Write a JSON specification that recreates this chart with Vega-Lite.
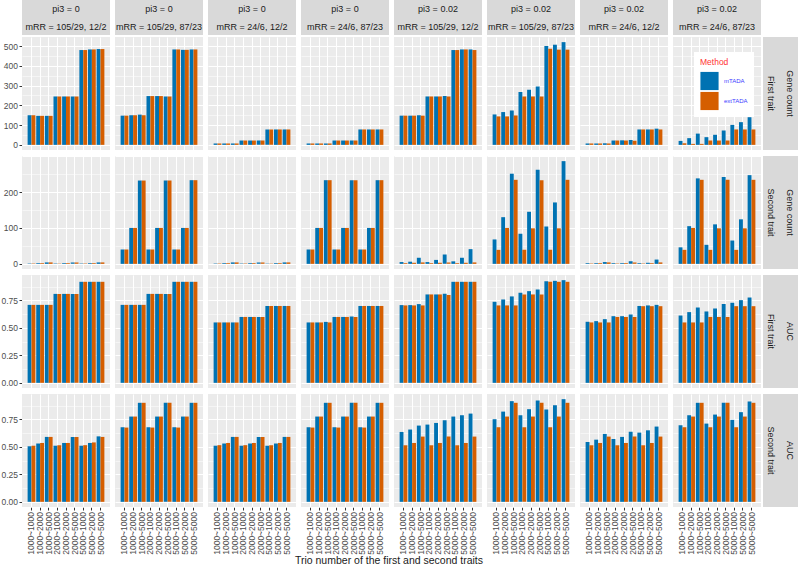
{
"$schema": "https://vega.github.io/schema/vega-lite/v6.json",
"padding": {"left": 0, "top": 0, "right": 0, "bottom": 0},
"background": "white",
"datasets": {
"d": [
{"c":1,"x":"1000~1000","m":"mTADA","g1":150,"g2":1,"a1":0.71,"a2":0.505},
{"c":1,"x":"1000~2000","m":"mTADA","g1":147,"g2":2,"a1":0.71,"a2":0.53},
{"c":1,"x":"1000~5000","m":"mTADA","g1":147,"g2":4,"a1":0.71,"a2":0.59},
{"c":1,"x":"2000~1000","m":"mTADA","g1":245,"g2":1,"a1":0.81,"a2":0.51},
{"c":1,"x":"2000~2000","m":"mTADA","g1":245,"g2":2,"a1":0.81,"a2":0.535},
{"c":1,"x":"2000~5000","m":"mTADA","g1":245,"g2":4,"a1":0.81,"a2":0.59},
{"c":1,"x":"5000~1000","m":"mTADA","g1":480,"g2":1,"a1":0.92,"a2":0.51},
{"c":1,"x":"5000~2000","m":"mTADA","g1":483,"g2":2,"a1":0.92,"a2":0.535},
{"c":1,"x":"5000~5000","m":"mTADA","g1":485,"g2":4,"a1":0.92,"a2":0.595},
{"c":1,"x":"1000~1000","m":"extTADA","g1":150,"g2":1,"a1":0.71,"a2":0.51},
{"c":1,"x":"1000~2000","m":"extTADA","g1":147,"g2":2,"a1":0.71,"a2":0.535},
{"c":1,"x":"1000~5000","m":"extTADA","g1":147,"g2":4,"a1":0.71,"a2":0.59},
{"c":1,"x":"2000~1000","m":"extTADA","g1":245,"g2":1,"a1":0.81,"a2":0.515},
{"c":1,"x":"2000~2000","m":"extTADA","g1":245,"g2":2,"a1":0.81,"a2":0.535},
{"c":1,"x":"2000~5000","m":"extTADA","g1":245,"g2":4,"a1":0.81,"a2":0.59},
{"c":1,"x":"5000~1000","m":"extTADA","g1":480,"g2":1,"a1":0.92,"a2":0.515},
{"c":1,"x":"5000~2000","m":"extTADA","g1":483,"g2":2,"a1":0.92,"a2":0.54},
{"c":1,"x":"5000~5000","m":"extTADA","g1":485,"g2":4,"a1":0.92,"a2":0.59},
{"c":2,"x":"1000~1000","m":"mTADA","g1":148,"g2":40,"a1":0.71,"a2":0.678},
{"c":2,"x":"1000~2000","m":"mTADA","g1":150,"g2":100,"a1":0.71,"a2":0.775},
{"c":2,"x":"1000~5000","m":"mTADA","g1":153,"g2":232,"a1":0.71,"a2":0.9},
{"c":2,"x":"2000~1000","m":"mTADA","g1":247,"g2":40,"a1":0.81,"a2":0.678},
{"c":2,"x":"2000~2000","m":"mTADA","g1":247,"g2":100,"a1":0.81,"a2":0.775},
{"c":2,"x":"2000~5000","m":"mTADA","g1":245,"g2":232,"a1":0.81,"a2":0.9},
{"c":2,"x":"5000~1000","m":"mTADA","g1":483,"g2":40,"a1":0.92,"a2":0.678},
{"c":2,"x":"5000~2000","m":"mTADA","g1":481,"g2":100,"a1":0.92,"a2":0.775},
{"c":2,"x":"5000~5000","m":"mTADA","g1":483,"g2":233,"a1":0.92,"a2":0.9},
{"c":2,"x":"1000~1000","m":"extTADA","g1":148,"g2":40,"a1":0.71,"a2":0.675},
{"c":2,"x":"1000~2000","m":"extTADA","g1":150,"g2":100,"a1":0.71,"a2":0.775},
{"c":2,"x":"1000~5000","m":"extTADA","g1":150,"g2":232,"a1":0.71,"a2":0.9},
{"c":2,"x":"2000~1000","m":"extTADA","g1":247,"g2":40,"a1":0.81,"a2":0.675},
{"c":2,"x":"2000~2000","m":"extTADA","g1":247,"g2":100,"a1":0.81,"a2":0.775},
{"c":2,"x":"2000~5000","m":"extTADA","g1":245,"g2":232,"a1":0.81,"a2":0.9},
{"c":2,"x":"5000~1000","m":"extTADA","g1":483,"g2":40,"a1":0.92,"a2":0.675},
{"c":2,"x":"5000~2000","m":"extTADA","g1":481,"g2":100,"a1":0.92,"a2":0.775},
{"c":2,"x":"5000~5000","m":"extTADA","g1":483,"g2":233,"a1":0.92,"a2":0.9},
{"c":3,"x":"1000~1000","m":"mTADA","g1":7,"g2":1,"a1":0.55,"a2":0.51},
{"c":3,"x":"1000~2000","m":"mTADA","g1":7,"g2":2,"a1":0.55,"a2":0.53},
{"c":3,"x":"1000~5000","m":"mTADA","g1":7,"g2":4,"a1":0.55,"a2":0.59},
{"c":3,"x":"2000~1000","m":"mTADA","g1":22,"g2":1,"a1":0.6,"a2":0.51},
{"c":3,"x":"2000~2000","m":"mTADA","g1":22,"g2":2,"a1":0.6,"a2":0.53},
{"c":3,"x":"2000~5000","m":"mTADA","g1":22,"g2":4,"a1":0.6,"a2":0.59},
{"c":3,"x":"5000~1000","m":"mTADA","g1":78,"g2":1,"a1":0.7,"a2":0.51},
{"c":3,"x":"5000~2000","m":"mTADA","g1":78,"g2":2,"a1":0.7,"a2":0.53},
{"c":3,"x":"5000~5000","m":"mTADA","g1":78,"g2":4,"a1":0.7,"a2":0.59},
{"c":3,"x":"1000~1000","m":"extTADA","g1":7,"g2":1,"a1":0.55,"a2":0.515},
{"c":3,"x":"1000~2000","m":"extTADA","g1":7,"g2":2,"a1":0.55,"a2":0.535},
{"c":3,"x":"1000~5000","m":"extTADA","g1":7,"g2":4,"a1":0.55,"a2":0.59},
{"c":3,"x":"2000~1000","m":"extTADA","g1":22,"g2":1,"a1":0.6,"a2":0.515},
{"c":3,"x":"2000~2000","m":"extTADA","g1":22,"g2":2,"a1":0.6,"a2":0.535},
{"c":3,"x":"2000~5000","m":"extTADA","g1":22,"g2":4,"a1":0.6,"a2":0.59},
{"c":3,"x":"5000~1000","m":"extTADA","g1":78,"g2":1,"a1":0.7,"a2":0.515},
{"c":3,"x":"5000~2000","m":"extTADA","g1":78,"g2":2,"a1":0.7,"a2":0.535},
{"c":3,"x":"5000~5000","m":"extTADA","g1":78,"g2":4,"a1":0.7,"a2":0.59},
{"c":4,"x":"1000~1000","m":"mTADA","g1":7,"g2":40,"a1":0.55,"a2":0.678},
{"c":4,"x":"1000~2000","m":"mTADA","g1":7,"g2":100,"a1":0.55,"a2":0.775},
{"c":4,"x":"1000~5000","m":"mTADA","g1":7,"g2":233,"a1":0.555,"a2":0.9},
{"c":4,"x":"2000~1000","m":"mTADA","g1":22,"g2":40,"a1":0.6,"a2":0.678},
{"c":4,"x":"2000~2000","m":"mTADA","g1":22,"g2":100,"a1":0.6,"a2":0.775},
{"c":4,"x":"2000~5000","m":"mTADA","g1":22,"g2":233,"a1":0.605,"a2":0.9},
{"c":4,"x":"5000~1000","m":"mTADA","g1":78,"g2":40,"a1":0.7,"a2":0.678},
{"c":4,"x":"5000~2000","m":"mTADA","g1":78,"g2":100,"a1":0.7,"a2":0.775},
{"c":4,"x":"5000~5000","m":"mTADA","g1":78,"g2":233,"a1":0.7,"a2":0.9},
{"c":4,"x":"1000~1000","m":"extTADA","g1":7,"g2":40,"a1":0.55,"a2":0.675},
{"c":4,"x":"1000~2000","m":"extTADA","g1":7,"g2":100,"a1":0.55,"a2":0.775},
{"c":4,"x":"1000~5000","m":"extTADA","g1":7,"g2":233,"a1":0.55,"a2":0.9},
{"c":4,"x":"2000~1000","m":"extTADA","g1":22,"g2":40,"a1":0.6,"a2":0.675},
{"c":4,"x":"2000~2000","m":"extTADA","g1":22,"g2":100,"a1":0.6,"a2":0.775},
{"c":4,"x":"2000~5000","m":"extTADA","g1":22,"g2":233,"a1":0.6,"a2":0.9},
{"c":4,"x":"5000~1000","m":"extTADA","g1":78,"g2":40,"a1":0.7,"a2":0.675},
{"c":4,"x":"5000~2000","m":"extTADA","g1":78,"g2":100,"a1":0.7,"a2":0.775},
{"c":4,"x":"5000~5000","m":"extTADA","g1":78,"g2":233,"a1":0.7,"a2":0.9},
{"c":5,"x":"1000~1000","m":"mTADA","g1":148,"g2":5,"a1":0.708,"a2":0.635},
{"c":5,"x":"1000~2000","m":"mTADA","g1":148,"g2":6,"a1":0.708,"a2":0.657},
{"c":5,"x":"1000~5000","m":"mTADA","g1":150,"g2":17,"a1":0.717,"a2":0.693},
{"c":5,"x":"2000~1000","m":"mTADA","g1":245,"g2":5,"a1":0.805,"a2":0.702},
{"c":5,"x":"2000~2000","m":"mTADA","g1":245,"g2":11,"a1":0.805,"a2":0.717},
{"c":5,"x":"2000~5000","m":"mTADA","g1":247,"g2":26,"a1":0.811,"a2":0.742},
{"c":5,"x":"5000~1000","m":"mTADA","g1":480,"g2":7,"a1":0.92,"a2":0.775},
{"c":5,"x":"5000~2000","m":"mTADA","g1":483,"g2":17,"a1":0.92,"a2":0.787},
{"c":5,"x":"5000~5000","m":"mTADA","g1":483,"g2":41,"a1":0.92,"a2":0.802},
{"c":5,"x":"1000~1000","m":"extTADA","g1":148,"g2":2,"a1":0.705,"a2":0.514},
{"c":5,"x":"1000~2000","m":"extTADA","g1":148,"g2":3,"a1":0.705,"a2":0.535},
{"c":5,"x":"1000~5000","m":"extTADA","g1":148,"g2":4,"a1":0.705,"a2":0.593},
{"c":5,"x":"2000~1000","m":"extTADA","g1":245,"g2":2,"a1":0.805,"a2":0.514},
{"c":5,"x":"2000~2000","m":"extTADA","g1":245,"g2":3,"a1":0.805,"a2":0.535},
{"c":5,"x":"2000~5000","m":"extTADA","g1":245,"g2":4,"a1":0.8,"a2":0.593},
{"c":5,"x":"5000~1000","m":"extTADA","g1":480,"g2":2,"a1":0.92,"a2":0.514},
{"c":5,"x":"5000~2000","m":"extTADA","g1":483,"g2":3,"a1":0.92,"a2":0.535},
{"c":5,"x":"5000~5000","m":"extTADA","g1":480,"g2":4,"a1":0.92,"a2":0.593},
{"c":6,"x":"1000~1000","m":"mTADA","g1":154,"g2":68,"a1":0.738,"a2":0.751},
{"c":6,"x":"1000~2000","m":"mTADA","g1":166,"g2":130,"a1":0.759,"a2":0.82},
{"c":6,"x":"1000~5000","m":"mTADA","g1":174,"g2":251,"a1":0.787,"a2":0.915},
{"c":6,"x":"2000~1000","m":"mTADA","g1":267,"g2":84,"a1":0.82,"a2":0.787},
{"c":6,"x":"2000~2000","m":"mTADA","g1":279,"g2":145,"a1":0.835,"a2":0.842},
{"c":6,"x":"2000~5000","m":"mTADA","g1":296,"g2":262,"a1":0.85,"a2":0.921},
{"c":6,"x":"5000~1000","m":"mTADA","g1":500,"g2":104,"a1":0.926,"a2":0.839},
{"c":6,"x":"5000~2000","m":"mTADA","g1":507,"g2":171,"a1":0.929,"a2":0.878},
{"c":6,"x":"5000~5000","m":"mTADA","g1":520,"g2":286,"a1":0.935,"a2":0.933},
{"c":6,"x":"1000~1000","m":"extTADA","g1":144,"g2":39,"a1":0.705,"a2":0.678},
{"c":6,"x":"1000~2000","m":"extTADA","g1":144,"g2":100,"a1":0.705,"a2":0.775},
{"c":6,"x":"1000~5000","m":"extTADA","g1":149,"g2":234,"a1":0.705,"a2":0.9},
{"c":6,"x":"2000~1000","m":"extTADA","g1":245,"g2":39,"a1":0.805,"a2":0.678},
{"c":6,"x":"2000~2000","m":"extTADA","g1":245,"g2":99,"a1":0.805,"a2":0.775},
{"c":6,"x":"2000~5000","m":"extTADA","g1":245,"g2":233,"a1":0.805,"a2":0.9},
{"c":6,"x":"5000~1000","m":"extTADA","g1":487,"g2":39,"a1":0.92,"a2":0.678},
{"c":6,"x":"5000~2000","m":"extTADA","g1":482,"g2":99,"a1":0.92,"a2":0.775},
{"c":6,"x":"5000~5000","m":"extTADA","g1":482,"g2":234,"a1":0.92,"a2":0.9},
{"c":7,"x":"1000~1000","m":"mTADA","g1":7,"g2":2,"a1":0.556,"a2":0.544},
{"c":7,"x":"1000~2000","m":"mTADA","g1":7,"g2":2,"a1":0.562,"a2":0.565},
{"c":7,"x":"1000~5000","m":"mTADA","g1":8,"g2":5,"a1":0.58,"a2":0.617},
{"c":7,"x":"2000~1000","m":"mTADA","g1":22,"g2":2,"a1":0.607,"a2":0.571},
{"c":7,"x":"2000~2000","m":"mTADA","g1":23,"g2":2,"a1":0.607,"a2":0.59},
{"c":7,"x":"2000~5000","m":"mTADA","g1":25,"g2":7,"a1":0.622,"a2":0.638},
{"c":7,"x":"5000~1000","m":"mTADA","g1":78,"g2":2,"a1":0.7,"a2":0.629},
{"c":7,"x":"5000~2000","m":"mTADA","g1":78,"g2":3,"a1":0.705,"a2":0.65},
{"c":7,"x":"5000~5000","m":"mTADA","g1":82,"g2":12,"a1":0.71,"a2":0.684},
{"c":7,"x":"1000~1000","m":"extTADA","g1":7,"g2":1,"a1":0.55,"a2":0.514},
{"c":7,"x":"1000~2000","m":"extTADA","g1":7,"g2":2,"a1":0.55,"a2":0.535},
{"c":7,"x":"1000~5000","m":"extTADA","g1":7,"g2":4,"a1":0.55,"a2":0.593},
{"c":7,"x":"2000~1000","m":"extTADA","g1":22,"g2":1,"a1":0.6,"a2":0.514},
{"c":7,"x":"2000~2000","m":"extTADA","g1":22,"g2":2,"a1":0.6,"a2":0.535},
{"c":7,"x":"2000~5000","m":"extTADA","g1":21,"g2":4,"a1":0.6,"a2":0.593},
{"c":7,"x":"5000~1000","m":"extTADA","g1":78,"g2":1,"a1":0.698,"a2":0.514},
{"c":7,"x":"5000~2000","m":"extTADA","g1":78,"g2":2,"a1":0.698,"a2":0.535},
{"c":7,"x":"5000~5000","m":"extTADA","g1":78,"g2":4,"a1":0.698,"a2":0.593},
{"c":8,"x":"1000~1000","m":"mTADA","g1":20,"g2":46,"a1":0.613,"a2":0.696},
{"c":8,"x":"1000~2000","m":"mTADA","g1":34,"g2":105,"a1":0.644,"a2":0.787},
{"c":8,"x":"1000~5000","m":"mTADA","g1":57,"g2":238,"a1":0.686,"a2":0.9},
{"c":8,"x":"2000~1000","m":"mTADA","g1":39,"g2":53,"a1":0.65,"a2":0.711},
{"c":8,"x":"2000~2000","m":"mTADA","g1":51,"g2":110,"a1":0.677,"a2":0.793},
{"c":8,"x":"2000~5000","m":"mTADA","g1":73,"g2":242,"a1":0.717,"a2":0.9},
{"c":8,"x":"5000~1000","m":"mTADA","g1":101,"g2":65,"a1":0.729,"a2":0.745},
{"c":8,"x":"5000~2000","m":"mTADA","g1":115,"g2":124,"a1":0.753,"a2":0.815},
{"c":8,"x":"5000~5000","m":"mTADA","g1":140,"g2":247,"a1":0.777,"a2":0.912},
{"c":8,"x":"1000~1000","m":"extTADA","g1":8,"g2":39,"a1":0.55,"a2":0.678},
{"c":8,"x":"1000~2000","m":"extTADA","g1":5,"g2":100,"a1":0.55,"a2":0.775},
{"c":8,"x":"1000~5000","m":"extTADA","g1":5,"g2":234,"a1":0.55,"a2":0.9},
{"c":8,"x":"2000~1000","m":"extTADA","g1":22,"g2":39,"a1":0.6,"a2":0.678},
{"c":8,"x":"2000~2000","m":"extTADA","g1":22,"g2":99,"a1":0.6,"a2":0.775},
{"c":8,"x":"2000~5000","m":"extTADA","g1":22,"g2":234,"a1":0.6,"a2":0.9},
{"c":8,"x":"5000~1000","m":"extTADA","g1":78,"g2":39,"a1":0.698,"a2":0.678},
{"c":8,"x":"5000~2000","m":"extTADA","g1":78,"g2":99,"a1":0.698,"a2":0.775},
{"c":8,"x":"5000~5000","m":"extTADA","g1":78,"g2":234,"a1":0.698,"a2":0.9}
],
"s": [
{"c":1,"lab":"pi3 = 0\nmRR = 105/29, 12/2"},
{"c":2,"lab":"pi3 = 0\nmRR = 105/29, 87/23"},
{"c":3,"lab":"pi3 = 0\nmRR = 24/6, 12/2"},
{"c":4,"lab":"pi3 = 0\nmRR = 24/6, 87/23"},
{"c":5,"lab":"pi3 = 0.02\nmRR = 105/29, 12/2"},
{"c":6,"lab":"pi3 = 0.02\nmRR = 105/29, 87/23"},
{"c":7,"lab":"pi3 = 0.02\nmRR = 24/6, 12/2"},
{"c":8,"lab":"pi3 = 0.02\nmRR = 24/6, 87/23"}
]
},
"data": {"name": "d"},
"config": {
"font": "Liberation Sans",
"view": {"fill": "#EBEBEB", "stroke": null},
"axis": {"domain": false, "gridColor": "#FFFFFF", "tickColor": "#333333", "tickSize": 3, "labelColor": "#4D4D4D", "labelFontSize": 8.5, "labelPadding": 1.5},
"axisY": {"minExtent": 21, "maxExtent": 21},
"legend": {"orient": "none", "legendX": 672, "legendY": 52, "fillColor": "#FFFFFF", "padding": 6, "titleColor": "#FF3333", "titleFontSize": 8.5, "titleFontWeight": "normal", "labelColor": "#3B3BFF", "labelFontSize": 6, "symbolType": "square", "symbolSize": 330, "symbolStrokeWidth": 0, "rowPadding": 1, "titlePadding": 5, "labelOffset": 5}
},
"spacing": 6,
"vconcat": [
{
"spacing": 2,
"vconcat": [
{
"data": {"name": "s"},
"facet": {"column": {"field": "c", "type": "ordinal", "header": null}},
"spacing": 5,
"spec": {
"width": 88, "height": 35,
"view": {"fill": "#D9D9D9", "stroke": null},
"mark": {"type": "text", "lineBreak": "\n", "fontSize": 9, "color": "#1A1A1A", "lineHeight": 18, "dy": -9},
"encoding": {
"text": {"field": "lab", "type": "nominal"},
"y": {"datum": " ", "type": "nominal", "axis": {"title": null, "labels": false, "ticks": false, "grid": false, "domain": false}}
}
}
},
{
"spacing": 2,
"hconcat": [
{
"facet": {"column": {"field": "c", "type": "ordinal", "header": null}},
"spacing": 5,
"spec": {
"width": 88, "height": 113,
"mark": {"type": "bar"},
"encoding": {
"x": {"field": "x", "type": "nominal", "sort": ["1000~1000","1000~2000","1000~5000","2000~1000","2000~2000","2000~5000","5000~1000","5000~2000","5000~5000"], "scale": {"paddingInner": 0.1, "paddingOuter": 0.65}, "axis": {"title": null, "labels": false, "ticks": false, "grid": true, "bandPosition": 0.5, "gridWidth": 1}},
"xOffset": {"field": "m", "type": "nominal", "sort": ["mTADA", "extTADA"]},
"y": {"field": "g1", "type": "quantitative", "scale": {"domain": [-26, 546], "nice": false}, "axis": {"title": null, "values": [0,50,100,150,200,250,300,350,400,450,500], "labelExpr": "datum.value % 100 === 0 ? datum.label : ''", "gridWidth": {"condition": {"test": "datum.value % 100 !== 0", "value": 0.5}, "value": 1}, "tickOpacity": {"condition": {"test": "datum.value % 100 !== 0", "value": 0}, "value": 1}}},
"color": {"field": "m", "type": "nominal", "title": "Method", "scale": {"domain": ["mTADA", "extTADA"], "range": ["#0072B2", "#D55E00"]}}
}
}
},
{
"data": {"values": [{"lab": "Gene count\nFirst trait"}]},
"width": 35, "height": 113,
"view": {"fill": "#D9D9D9", "stroke": null},
"mark": {"type": "text", "angle": 90, "lineBreak": "\n", "fontSize": 9, "color": "#1A1A1A", "lineHeight": 19, "dy": -9.5},
"encoding": {"text": {"field": "lab", "type": "nominal"}}
}
]
}
]
},
{
"spacing": 2,
"hconcat": [
{
"facet": {"column": {"field": "c", "type": "ordinal", "header": null}},
"spacing": 5,
"spec": {
"width": 88, "height": 113,
"mark": {"type": "bar"},
"encoding": {
"x": {"field": "x", "type": "nominal", "sort": ["1000~1000","1000~2000","1000~5000","2000~1000","2000~2000","2000~5000","5000~1000","5000~2000","5000~5000"], "scale": {"paddingInner": 0.1, "paddingOuter": 0.65}, "axis": {"title": null, "labels": false, "ticks": false, "grid": true, "bandPosition": 0.5, "gridWidth": 1}},
"xOffset": {"field": "m", "type": "nominal", "sort": ["mTADA", "extTADA"]},
"y": {"field": "g2", "type": "quantitative", "scale": {"domain": [-14.3, 300.3], "nice": false}, "axis": {"title": null, "values": [0,50,100,150,200,250,300], "labelExpr": "datum.value % 100 === 0 && datum.value < 300 ? datum.label : ''", "gridWidth": {"condition": {"test": "datum.value % 100 !== 0", "value": 0.5}, "value": 1}, "tickOpacity": {"condition": {"test": "datum.value % 100 !== 0 || datum.value === 300", "value": 0}, "value": 1}}},
"color": {"field": "m", "type": "nominal", "title": "Method", "scale": {"domain": ["mTADA", "extTADA"], "range": ["#0072B2", "#D55E00"]}}
}
}
},
{
"data": {"values": [{"lab": "Gene count\nSecond trait"}]},
"width": 35, "height": 113,
"view": {"fill": "#D9D9D9", "stroke": null},
"mark": {"type": "text", "angle": 90, "lineBreak": "\n", "fontSize": 9, "color": "#1A1A1A", "lineHeight": 19, "dy": -9.5},
"encoding": {"text": {"field": "lab", "type": "nominal"}}
}
]
},
{
"spacing": 2,
"hconcat": [
{
"facet": {"column": {"field": "c", "type": "ordinal", "header": null}},
"spacing": 5,
"spec": {
"width": 88, "height": 113,
"mark": {"type": "bar"},
"encoding": {
"x": {"field": "x", "type": "nominal", "sort": ["1000~1000","1000~2000","1000~5000","2000~1000","2000~2000","2000~5000","5000~1000","5000~2000","5000~5000"], "scale": {"paddingInner": 0.1, "paddingOuter": 0.65}, "axis": {"title": null, "labels": false, "ticks": false, "grid": true, "bandPosition": 0.5, "gridWidth": 1}},
"xOffset": {"field": "m", "type": "nominal", "sort": ["mTADA", "extTADA"]},
"y": {"field": "a1", "type": "quantitative", "scale": {"domain": [-0.047, 0.982], "nice": false}, "axis": {"title": null, "values": [0,0.125,0.25,0.375,0.5,0.625,0.75,0.875], "labelExpr": "abs(datum.value*4 - round(datum.value*4)) < 0.01 ? format(datum.value, '.2f') : ''", "gridWidth": {"condition": {"test": "abs(datum.value*4 - round(datum.value*4)) > 0.01", "value": 0.5}, "value": 1}, "tickOpacity": {"condition": {"test": "abs(datum.value*4 - round(datum.value*4)) > 0.01", "value": 0}, "value": 1}}},
"color": {"field": "m", "type": "nominal", "title": "Method", "scale": {"domain": ["mTADA", "extTADA"], "range": ["#0072B2", "#D55E00"]}}
}
}
},
{
"data": {"values": [{"lab": "AUC\nFirst trait"}]},
"width": 35, "height": 113,
"view": {"fill": "#D9D9D9", "stroke": null},
"mark": {"type": "text", "angle": 90, "lineBreak": "\n", "fontSize": 9, "color": "#1A1A1A", "lineHeight": 19, "dy": -9.5},
"encoding": {"text": {"field": "lab", "type": "nominal"}}
}
]
},
{
"spacing": 2,
"hconcat": [
{
"facet": {"column": {"field": "c", "type": "ordinal", "header": null}},
"spacing": 5,
"title": {"text": "Trio number of the first and second traits", "orient": "bottom", "anchor": "middle", "fontSize": 10.5, "fontWeight": "normal", "color": "#1A1A1A", "offset": 2, "dx": 8},
"spec": {
"width": 88, "height": 113,
"mark": {"type": "bar"},
"encoding": {
"x": {"field": "x", "type": "nominal", "sort": ["1000~1000","1000~2000","1000~5000","2000~1000","2000~2000","2000~5000","5000~1000","5000~2000","5000~5000"], "scale": {"paddingInner": 0.1, "paddingOuter": 0.65}, "axis": {"title": null, "labelAngle": -90, "grid": true, "bandPosition": 0.5, "gridWidth": 1}},
"xOffset": {"field": "m", "type": "nominal", "sort": ["mTADA", "extTADA"]},
"y": {"field": "a2", "type": "quantitative", "scale": {"domain": [-0.047, 0.98], "nice": false}, "axis": {"title": null, "values": [0,0.125,0.25,0.375,0.5,0.625,0.75,0.875], "labelExpr": "abs(datum.value*4 - round(datum.value*4)) < 0.01 ? format(datum.value, '.2f') : ''", "gridWidth": {"condition": {"test": "abs(datum.value*4 - round(datum.value*4)) > 0.01", "value": 0.5}, "value": 1}, "tickOpacity": {"condition": {"test": "abs(datum.value*4 - round(datum.value*4)) > 0.01", "value": 0}, "value": 1}}},
"color": {"field": "m", "type": "nominal", "title": "Method", "scale": {"domain": ["mTADA", "extTADA"], "range": ["#0072B2", "#D55E00"]}}
}
}
},
{
"data": {"values": [{"lab": "AUC\nSecond trait"}]},
"width": 35, "height": 113,
"view": {"fill": "#D9D9D9", "stroke": null},
"mark": {"type": "text", "angle": 90, "lineBreak": "\n", "fontSize": 9, "color": "#1A1A1A", "lineHeight": 19, "dy": -9.5},
"encoding": {"text": {"field": "lab", "type": "nominal"}}
}
]
}
]
}
